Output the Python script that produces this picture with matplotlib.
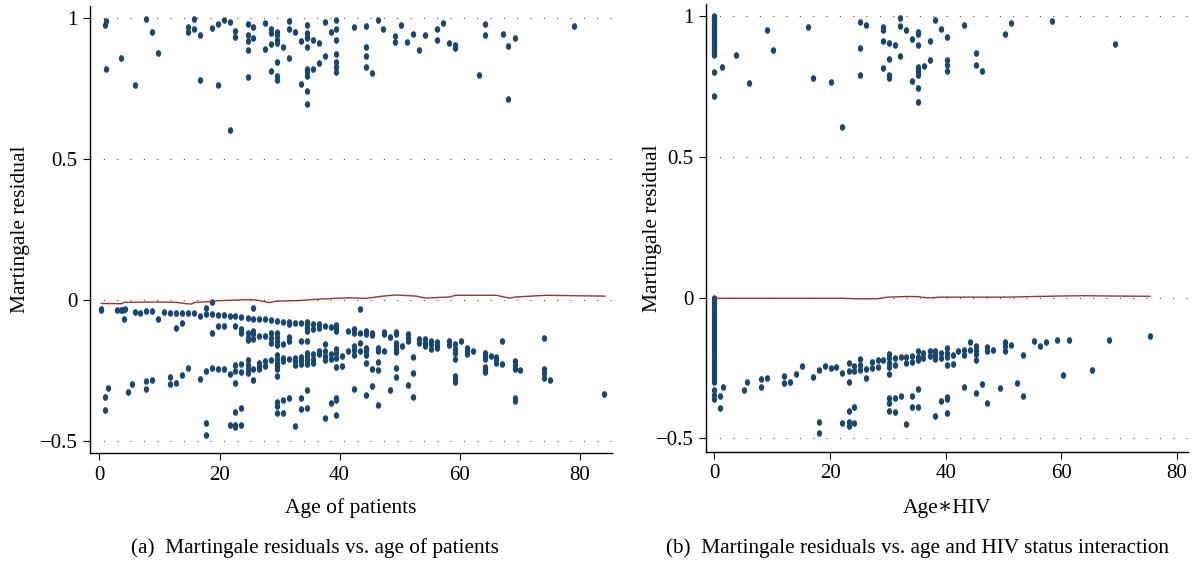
import numpy as np
import matplotlib
matplotlib.use("Agg")
import matplotlib.pyplot as plt
from matplotlib.path import Path

plt.rcParams['font.family'] = ['Liberation Serif', 'DejaVu Serif']

# -----------------------------
# Data
# -----------------------------
# panel (a): residual vs age, points near +1 (events)
a_top_age = [0.95, 1.1, 3.55, 5.9, 7.8, 8.8, 9.8, 14.7, 15.7, 16.7,
             18.7, 19.7, 20.7, 21.7, 22.6, 24.7, 25.6, 27.6, 28.6, 29.6,
             30.6, 31.6, 32.6, 33.5, 34.5, 35.5, 36.5, 37.5, 38.5, 39.4,
             42.4, 44.4, 45.4, 46.4, 47.3, 49.3, 50.3, 51.3, 52.3, 53.3,
             54.3, 56.3, 57.3, 58.2, 59.3, 63.2, 64.2, 67.2, 68.1, 69.2,
             79.0]
a_top_res = [[0.976], [0.992, 0.822], [0.861], [0.762], [0.997], [0.951], [0.878],
             [0.970, 0.952], [0.997, 0.963], [0.941, 0.780], [0.967], [0.980, 0.764],
             [0.994], [0.988, 0.605], [0.955, 0.934], [0.980, 0.941, 0.918, 0.887, 0.792],
             [0.970, 0.930], [0.982, 0.893], [0.961, 0.947, 0.910, 0.815],
             [0.953, 0.941, 0.925, 0.911, 0.845, 0.796, 0.783], [0.897],
             [0.989, 0.963, 0.858], [0.951], [0.918, 0.768],
             [0.975, 0.947, 0.935, 0.929, 0.899, 0.822, 0.810, 0.795, 0.744, 0.696],
             [0.923, 0.822], [0.911, 0.842], [0.987, 0.866], [0.951],
             [0.994, 0.963, 0.925, 0.873, 0.845, 0.828, 0.808], [0.970],
             [0.974, 0.899, 0.866, 0.826], [0.806], [0.994], [0.961], [0.937, 0.916],
             [0.975], [0.917], [0.943], [0.889], [0.942], [0.963, 0.925], [0.982],
             [0.914], [0.905, 0.895], [0.799], [0.981, 0.942], [0.943], [0.901, 0.715],
             [0.929], [0.972]]

# panel (a): censored patients (negative residuals)
a_low_age = [0.3, 0.9, 1.4, 2.9, 3.6, 3.9, 4.1, 4.3, 4.8, 5.4,
             5.9, 6.8, 7.8, 8.8, 9.8, 10.8, 11.8, 12.8, 13.8, 14.7,
             15.7, 16.7, 17.7, 18.7, 19.7, 20.7, 21.7, 22.6, 23.6, 24.7,
             25.6, 26.6, 27.6, 28.6, 29.6, 30.6, 31.6, 32.6, 33.5, 34.5,
             35.5, 36.5, 37.5, 38.5, 39.4, 40.4, 41.4, 42.4, 43.4, 44.4,
             45.4, 46.4, 47.4, 48.4, 49.4, 50.4, 51.4, 52.3, 53.3, 54.3,
             55.3, 56.3, 58.2, 59.3, 60.3, 61.2, 62.2, 64.2, 65.2, 66.1,
             67.1, 69.2, 70.1, 74.1, 75.1, 84.0]
a_low_res = [[-0.031, -0.037], [-0.345, -0.390], [-0.313], [-0.037], [-0.037], [-0.037],
             [-0.067], [-0.033], [-0.327], [-0.298],
             [-0.041], [-0.045], [-0.040, -0.287, -0.314], [-0.040, -0.282], [-0.068],
             [-0.042], [-0.047, -0.272, -0.299], [-0.047, -0.098, -0.295],
             [-0.047, -0.080, -0.267], [-0.045, -0.240],
             [-0.047], [-0.057, -0.279], [-0.027, -0.051, -0.252, -0.437, -0.478],
             [-0.007, -0.051, -0.116, -0.240], [-0.053, -0.092, -0.246],
             [-0.053, -0.092, -0.243], [-0.057, -0.263, -0.442],
             [-0.057, -0.092, -0.232, -0.252, -0.293, -0.397, -0.444, -0.449],
             [-0.059, -0.104, -0.116, -0.228, -0.257, -0.383, -0.442],
             [-0.063, -0.116, -0.133, -0.142, -0.213, -0.232, -0.246, -0.260],
             [-0.027, -0.066, -0.110, -0.122, -0.137, -0.246, -0.284],
             [-0.066, -0.128, -0.222, -0.234, -0.246], [-0.068, -0.128, -0.216, -0.234],
             [-0.071, -0.116, -0.133, -0.151, -0.213],
             [-0.074, -0.116, -0.130, -0.145, -0.161, -0.196, -0.210, -0.222, -0.234,
              -0.243, -0.270, -0.362, -0.376, -0.400],
             [-0.078, -0.157, -0.204, -0.216, -0.354, -0.402],
             [-0.078, -0.086, -0.130, -0.145, -0.210, -0.346],
             [-0.080, -0.204, -0.216, -0.230, -0.447],
             [-0.080, -0.145, -0.201, -0.213, -0.228, -0.346, -0.388],
             [-0.078, -0.086, -0.098, -0.110, -0.145, -0.187, -0.199, -0.213, -0.228,
              -0.320, -0.383],
             [-0.086, -0.102, -0.193, -0.210, -0.222], [-0.084, -0.098, -0.181, -0.193],
             [-0.092, -0.157, -0.181, -0.199, -0.213, -0.417],
             [-0.096, -0.193, -0.210, -0.364],
             [-0.090, -0.098, -0.110, -0.172, -0.187, -0.204, -0.237, -0.346, -0.354, -0.408],
             [-0.199, -0.234], [-0.110, -0.181],
             [-0.104, -0.116, -0.163, -0.177, -0.194, -0.316],
             [-0.033, -0.116, -0.151, -0.181],
             [-0.110, -0.122, -0.169, -0.181, -0.196, -0.222, -0.337],
             [-0.116, -0.125, -0.243, -0.305], [-0.169, -0.181, -0.220, -0.249, -0.372],
             [-0.113, -0.122, -0.181], [-0.130, -0.320],
             [-0.113, -0.122, -0.151, -0.163, -0.175, -0.184, -0.240, -0.272],
             [-0.163], [-0.122, -0.133, -0.145, -0.301], [-0.201, -0.260, -0.345],
             [-0.139, -0.154], [-0.137, -0.151, -0.163],
             [-0.145, -0.157, -0.172], [-0.149, -0.161, -0.169], [-0.145, -0.161],
             [-0.157, -0.175, -0.189, -0.208, -0.270, -0.281, -0.291], [-0.145],
             [-0.169, -0.181, -0.193], [-0.181],
             [-0.187, -0.199, -0.210, -0.236, -0.246, -0.255], [-0.199],
             [-0.201, -0.210, -0.222],
             [-0.145, -0.228], [-0.216, -0.232, -0.243, -0.349, -0.360], [-0.248],
             [-0.133, -0.246, -0.260, -0.277], [-0.284], [-0.332]]

# panel (a): lowess smooth
a_fit_age = [0.3, 3.6, 4.2, 9.4, 12.8, 14.5, 15.3, 16.0, 18.0, 20.0, 23.0, 25.0,
             26.5, 28.2, 29.5, 33.0, 37.0, 41.7, 44.4, 47.2, 49.4, 52.8, 54.3,
             58.3, 59.4, 63.9, 66.1, 68.3, 69.4, 74.4, 84.2]
a_fit_res = [-0.012, -0.013, -0.008, -0.007, -0.008, -0.013, -0.014, -0.008, -0.006,
             -0.002, 0.000, 0.002, -0.001, -0.009, -0.004, -0.002, 0.004, 0.008,
             0.006, 0.014, 0.018, 0.014, 0.007, 0.011, 0.017, 0.017, 0.017, 0.007,
             0.011, 0.017, 0.014]

# panel (b): residual vs age*HIV
b_top_x = [0, 1.25, 3.8, 6.0, 9.0, 10.1, 16.1, 17.1, 20.1, 22.1,
           25.1, 26.2, 29.2, 30.2, 31.2, 32.1, 33.2, 34.2, 35.2, 36.2,
           37.2, 38.2, 39.1, 40.2, 43.2, 45.2, 46.2, 50.3, 51.2, 58.3,
           69.3]
b_top_res = [[1.0, 0.994, 0.988, 0.982, 0.976, 0.970, 0.964, 0.958, 0.952, 0.946,
              0.940, 0.934, 0.928, 0.922, 0.916, 0.910, 0.904, 0.898, 0.892, 0.886,
              0.880, 0.874, 0.868, 0.862, 0.800, 0.717],
             [0.821], [0.862], [0.763], [0.951], [0.878], [0.963], [0.780], [0.765],
             [0.605], [0.980, 0.886, 0.792], [0.968], [0.962, 0.951, 0.911, 0.816],
             [0.906, 0.846, 0.791, 0.779], [0.897], [0.992, 0.965, 0.859], [0.951],
             [0.917, 0.768],
             [0.944, 0.935, 0.898, 0.820, 0.808, 0.799, 0.791, 0.743, 0.696],
             [0.823], [0.912, 0.843], [0.987], [0.953], [0.927, 0.844, 0.825, 0.806],
             [0.968], [0.868, 0.826], [0.806], [0.936], [0.975], [0.982], [0.901]]

b_low_x = [0, 1.0, 1.5, 5.05, 5.6, 8.0, 9.1, 12.1, 13.1, 14.1,
           15.1, 17.1, 18.1, 19.1, 20.1, 21.1, 22.1, 23.2, 24.1, 25.2,
           26.2, 27.2, 28.2, 29.2, 30.2, 31.2, 32.2, 33.2, 34.2, 35.2,
           36.1, 37.2, 38.2, 39.2, 40.2, 41.2, 42.2, 43.2, 44.2, 45.2,
           46.2, 47.2, 48.2, 49.3, 50.2, 51.3, 52.3, 53.3, 55.3, 56.3,
           57.3, 59.3, 60.3, 61.3, 65.3, 68.3, 75.3]
b_low_res = [[-0.002, -0.01, -0.02, -0.03, -0.04, -0.05, -0.06, -0.07, -0.08, -0.09,
              -0.10, -0.11, -0.12, -0.13, -0.14, -0.15, -0.16, -0.17, -0.18, -0.19,
              -0.20, -0.21, -0.22, -0.23, -0.24, -0.25, -0.26, -0.27, -0.28, -0.29,
              -0.298, -0.328, -0.345, -0.361],
             [-0.349, -0.393], [-0.316], [-0.328], [-0.299], [-0.290, -0.318], [-0.286],
             [-0.277, -0.302], [-0.298], [-0.270],
             [-0.244], [-0.283], [-0.256, -0.440, -0.481], [-0.241], [-0.248], [-0.247],
             [-0.266, -0.446], [-0.233, -0.262, -0.298, -0.401, -0.440, -0.454],
             [-0.242, -0.259, -0.387, -0.446], [-0.219, -0.239, -0.256],
             [-0.254, -0.286], [-0.227, -0.251], [-0.223, -0.245], [-0.221],
             [-0.200, -0.215, -0.233, -0.247, -0.271, -0.357, -0.375, -0.402],
             [-0.215, -0.239, -0.357, -0.407], [-0.212, -0.349], [-0.212, -0.233, -0.448],
             [-0.207, -0.227, -0.349, -0.390], [-0.191, -0.209, -0.223, -0.325, -0.387],
             [-0.197, -0.215], [-0.188, -0.207], [-0.188, -0.203, -0.219, -0.420],
             [-0.195, -0.215, -0.367],
             [-0.180, -0.195, -0.212, -0.239, -0.351, -0.361, -0.410],
             [-0.203, -0.235], [-0.188], [-0.186, -0.203, -0.318], [-0.156, -0.186],
             [-0.171, -0.186, -0.200, -0.223, -0.339],
             [-0.308], [-0.174, -0.191, -0.375], [-0.186], [-0.322],
             [-0.156, -0.171, -0.188], [-0.168], [-0.304], [-0.203, -0.348], [-0.154],
             [-0.171],
             [-0.156], [-0.151], [-0.276], [-0.149], [-0.258], [-0.149], [-0.135]]

b_fit_x = [0, 10, 21.7, 25, 28, 30, 33, 35, 37, 39, 45, 51, 55, 60, 64, 68, 75.3]
b_fit_res = [-0.002, -0.002, -0.002, -0.004, -0.004, 0.002, 0.004, 0.004, -0.001,
             0.002, 0.002, 0.002, 0.004, 0.006, 0.007, 0.006, 0.005]

x_ticks = [0, 20, 40, 60, 80]
y_ticks = [-0.5, 0, 0.5, 1]
y_ticklabels = ['\u22120.5', '0', '0.5', '1']

NAVY = '#1a476f'
MAROON = '#90353b'


def expand(cols, vals):
    xs, ys = [], []
    for c, v in zip(cols, vals, strict=True):
        xs += [c] * len(v)
        ys += v
    return xs, ys


# slightly tall stata-like dot
t = np.linspace(0, 2 * np.pi, 41)
dot = Path(np.column_stack([0.8 * np.cos(t), np.sin(t)]))

W, H = 1196, 563
fig = plt.figure(figsize=(W / 100, H / 100), dpi=100)


def axes_px(left, right, top, bottom):
    return fig.add_axes([left / W, 1 - bottom / H, (right - left) / W, (bottom - top) / H])


def style(ax, xlim, ylim, xlabel, xlab_y, ylab_x):
    ax.set_xlim(*xlim)
    ax.set_ylim(*ylim)
    for y in y_ticks:
        ax.axhline(y, color='#444444', lw=0.8, ls=(0, (1, 11)), zorder=0)
    ax.spines['top'].set_visible(False)
    ax.spines['right'].set_visible(False)
    ax.spines['left'].set_linewidth(1.0)
    ax.spines['bottom'].set_linewidth(1.0)
    ax.set_xticks(x_ticks)
    ax.set_yticks(y_ticks)
    ax.set_yticklabels(y_ticklabels)
    ax.tick_params(direction='out', length=5, width=0.8, labelsize=15, pad=4)
    ax.set_xlabel(xlabel, fontsize=15.5, va='center')
    ax.xaxis.set_label_coords(0.5, xlab_y)
    ax.set_ylabel('Martingale residual', fontsize=15.5, va='center')
    ax.yaxis.set_label_coords(ylab_x, 0.5)


# -----------------------------
# Panel (a)
# -----------------------------
ax_a = axes_px(90, 612, 6, 453.3)
x, y = expand(a_top_age, a_top_res)
ax_a.scatter(x, y, s=23, marker=dot, color=NAVY, linewidths=0, zorder=2)
x, y = expand(a_low_age, a_low_res)
ax_a.scatter(x, y, s=23, marker=dot, color=NAVY, linewidths=0, zorder=2)
ax_a.plot(a_fit_age, a_fit_res, color=MAROON, lw=1.0, zorder=3)
style(ax_a, (-1.58, 85.4), (-0.544, 1.044), 'Age of patients', -0.122, -0.133)

# -----------------------------
# Panel (b)
# -----------------------------
ax_b = axes_px(706, 1188, 4, 451.7)
x, y = expand(b_top_x, b_top_res)
ax_b.scatter(x, y, s=23, marker=dot, color=NAVY, linewidths=0, zorder=2)
x, y = expand(b_low_x, b_low_res)
ax_b.scatter(x, y, s=23, marker=dot, color=NAVY, linewidths=0, zorder=2)
ax_b.plot(b_fit_x, b_fit_res, color=MAROON, lw=1.0, zorder=3)
style(ax_b, (-1.47, 81.9), (-0.547, 1.043), 'Age\u2217HIV', -0.126, -0.110)

# captions
fig.text(315 / W, 1 - 548 / H, '(a)  Martingale residuals vs. age of patients',
         ha='center', va='center', fontsize=15.3)
fig.text(917 / W, 1 - 548 / H, '(b)  Martingale residuals vs. age and HIV status interaction',
         ha='center', va='center', fontsize=15.3)

fig.savefig('out.png', dpi=100)
